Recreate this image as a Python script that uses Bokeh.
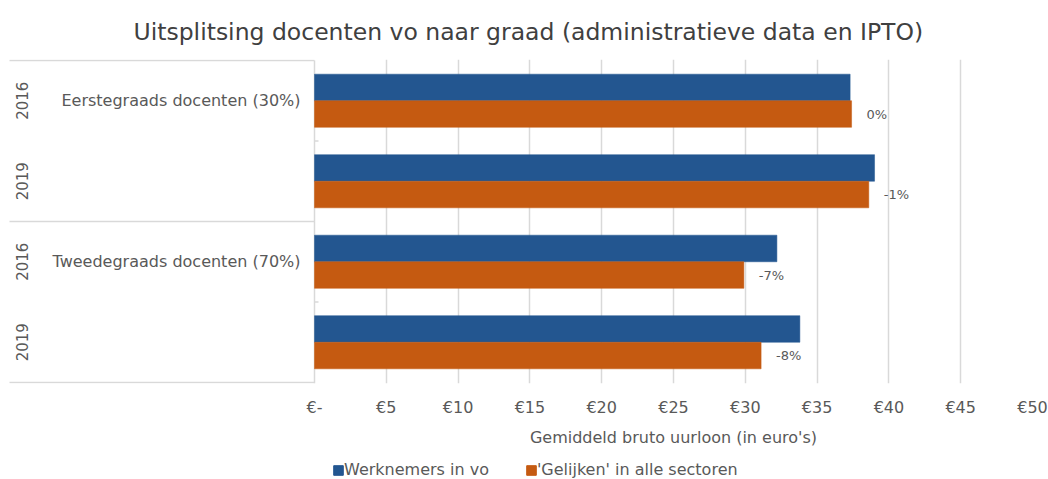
import math
from bokeh.plotting import figure
from bokeh.layouts import column
from bokeh.models import Range1d, FixedTicker, Legend, LegendItem, ColumnDataSource
from bokeh.core.properties import value
from bokeh.embed import file_html
from bokeh.resources import INLINE

# ---------------- data ----------------
title_text = "Uitsplitsing docenten vo naar graad (administratieve data en IPTO)"
categories = ["Eerstegraads docenten (30%)", "Tweedegraads docenten (70%)"]
years = ["2016", "2019"]
series_names = ["Werknemers in vo", "'Gelijken' in alle sectoren"]
werknemers = [37.3, 39.0, 32.2, 33.8]
gelijken = [37.4, 38.6, 29.9, 31.1]
verschil = ["0%", "-1%", "-7%", "-8%"]
x_ticks = [0, 5, 10, 15, 20, 25, 30, 35, 40, 45, 50]
x_tick_labels = ["€-", "€5", "€10", "€15", "€20", "€25", "€30", "€35", "€40", "€45", "€50"]
x_label = "Gemiddeld bruto uurloon (in euro's)"

# ---------------- style / layout ----------------
FONT = "DejaVu Sans"
TEXT = "#595959"
TITLE_C = "#404040"
BLUE = "#235690"
ORANGE = "#c55a11"
GRID = "#d9d9d9"

W, H = 1048, 479
H1 = 422                # height of the chart part, the rest holds axis title + legend
H2 = H - H1
AXIS_PX = 314           # pixel where the value axis starts
RIGHT_PX = 1032         # pixel of the last tick
TOP_PX, BOTTOM_PX = 59, 383
x_max = x_ticks[-1]
units_per_px = x_max / (RIGHT_PX - AXIS_PX)
x_start = -AXIS_PX * units_per_px


def px(dx):
    """horizontal pixel distance -> data units"""
    return dx * units_per_px


n = len(werknemers)
pad = 1.0 / ((BOTTOM_PX - TOP_PX) / n)
slot_centers = [n - 0.5 - i for i in range(n)]
bar_h = 0.33

src = ColumnDataSource(dict(
    y_blue=[c + bar_h / 2 for c in slot_centers],
    y_or=[c - bar_h / 2 for c in slot_centers],
    werk=werknemers,
    gel=gelijken,
    lbl=verschil,
))

p = figure(width=W, height=H1, output_backend="svg", toolbar_location=None,
           x_range=Range1d(x_start, x_max), y_range=Range1d(-pad, n + pad),
           y_axis_location=None,
           min_border_left=0, min_border_right=W - RIGHT_PX,
           min_border_top=TOP_PX, min_border_bottom=H1 - BOTTOM_PX)

p.title.text = title_text
p.title.align = "left"
p.title.offset = 133
p.title.standoff = 28
p.title.text_font = FONT
p.title.text_font_size = "23.5px"
p.title.text_font_style = "normal"
p.title.text_color = TITLE_C

# grid
p.xgrid.ticker = FixedTicker(ticks=x_ticks[1:])
p.xgrid.grid_line_color = GRID
p.xgrid.grid_line_width = 1.5
p.ygrid.grid_line_color = None
p.outline_line_color = None

# category frame on the left (axis line, separators, small ticks)
p.segment(x0=[0], x1=[0], y0=[-pad], y1=[n], line_color=GRID, line_width=1.5)
sep_y = [0, n / 2, n]
p.segment(x0=[x_start + px(9)] * len(sep_y), x1=[0] * len(sep_y), y0=sep_y, y1=sep_y,
          line_color=GRID, line_width=1.5)
small_y = [n / 4, 3 * n / 4]
p.segment(x0=[0] * 2, x1=[px(4)] * 2, y0=small_y, y1=small_y,
          line_color=GRID, line_width=1.5)

# bars
r1 = p.hbar(y="y_blue", left=0, right="werk", height=bar_h, source=src,
            fill_color=BLUE, line_color=BLUE, line_width=0.5)
r2 = p.hbar(y="y_or", left=0, right="gel", height=bar_h, source=src,
            fill_color=ORANGE, line_color=ORANGE, line_width=0.5)

p.text(x="gel", y="y_or", text="lbl", source=src, x_offset=15,
       text_baseline="middle", text_align="left",
       text_font=value(FONT), text_font_size="13px", text_color=TEXT)

# category labels
cat_y = [slot_centers[i * len(years)] for i in range(len(categories))]
p.text(x=[0] * len(categories), y=cat_y, text=categories, x_offset=-14,
       text_align="right", text_baseline="middle",
       text_font=value(FONT), text_font_size="16px", text_color=TEXT)

# year labels (rotated)
year_text = [yr for _ in categories for yr in years]
p.text(x=[x_start + px(21)] * len(year_text), y=slot_centers, text=year_text,
       angle=math.pi / 2, text_align="center", text_baseline="middle",
       text_font=value(FONT), text_font_size="15px", text_color=TEXT)

# x axis
xa = p.xaxis[0]
xa.ticker = FixedTicker(ticks=x_ticks, minor_ticks=[])
xa.major_label_overrides = {t: l for t, l in zip(x_ticks, x_tick_labels)}
xa.axis_line_color = None
xa.major_tick_line_color = None
xa.minor_tick_line_color = None
xa.major_tick_out = 0
xa.major_tick_in = 0
xa.major_label_standoff = 14
xa.major_label_text_font = FONT
xa.major_label_text_font_size = "16px"
xa.major_label_text_color = TEXT

# ---------------- lower strip: axis title + legend ----------------
p2 = figure(width=W, height=H2, output_backend="svg", toolbar_location=None,
            x_range=p.x_range, y_range=Range1d(0, H2),
            x_axis_location=None, y_axis_location=None,
            min_border_left=0, min_border_right=W - RIGHT_PX,
            min_border_top=0, min_border_bottom=0)
p2.xgrid.grid_line_color = None
p2.ygrid.grid_line_color = None
p2.outline_line_color = None

p2.text(x=[x_max / 2], y=[H2 - 15], text=[x_label], text_align="center",
        text_baseline="middle", text_font=value(FONT), text_font_size="16px",
        text_color=TEXT)

# legend proxies (kept outside the visible strip)
proxy = ColumnDataSource(dict(y=[-H2], right=[0]))
g1 = p2.hbar(y="y", right="right", left=0, height=1, source=proxy,
             fill_color=BLUE, line_color=BLUE)
g2 = p2.hbar(y="y", right="right", left=0, height=1, source=proxy,
             fill_color=ORANGE, line_color=ORANGE)

legend = Legend(items=[LegendItem(label=series_names[0], renderers=[g1]),
                       LegendItem(label=series_names[1], renderers=[g2])],
                orientation="horizontal", location=(332, 0),
                glyph_width=12, glyph_height=12, label_standoff=0, spacing=36,
                padding=0, margin=0, label_height=16,
                border_line_color=None, background_fill_alpha=0,
                label_text_font=FONT, label_text_font_size="16px",
                label_text_color=TEXT)
p2.add_layout(legend, "center")

layout = column(p, p2, spacing=0)
open("out.html", "w").write(file_html(layout, INLINE))
